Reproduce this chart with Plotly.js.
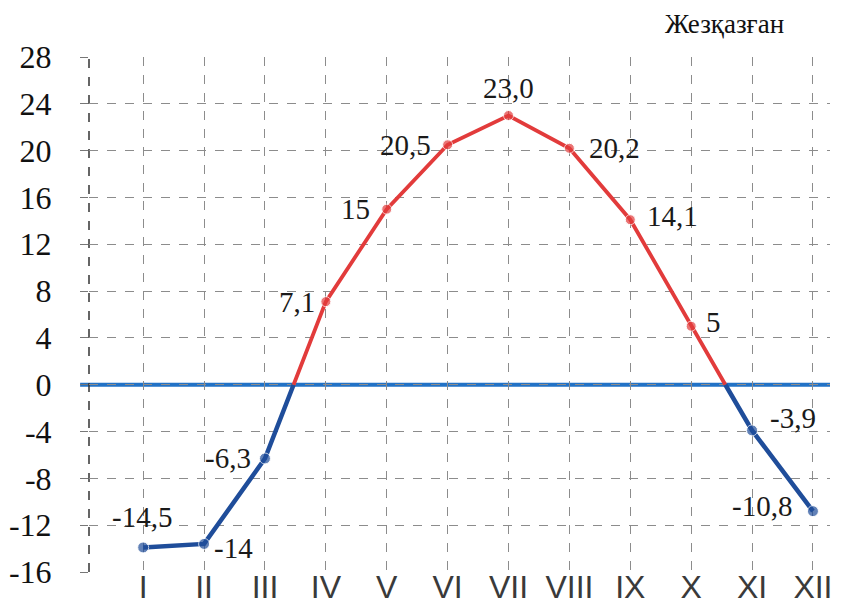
<!DOCTYPE html>
<html>
<head>
<meta charset="utf-8">
<script src="https://cdn.plot.ly/plotly-3.0.1.min.js"></script>
<style>html,body{margin:0;padding:0;background:#fff;}#chart{width:843px;height:612px;}</style>
</head>
<body>
<div id="chart"></div>
<script>
// ---- data ----
const months = ["I","II","III","IV","V","VI","VII","VIII","IX","X","XI","XII"];
const temps = [-13.9, -13.6, -6.3, 7.1, 15, 20.5, 23.0, 20.2, 14.1, 5, -3.9, -10.8];
const labelTexts = ["-14,5","-14","-6,3","7,1","15","20,5","23,0","20,2","14,1","5","-3,9","-10,8"];
const yTicks = [-16,-12,-8,-4,0,4,8,12,16,20,24,28];
const station = "Жезқазған";

// ---- styling (label placement, not data) ----
const labelStyle = [
  {xanchor:"center", yanchor:"bottom", dx:-1, dy:-12},
  {xanchor:"left", yanchor:"middle", dx:8, dy:4},
  {xanchor:"right", yanchor:"middle", dx:-12, dy:0},
  {xanchor:"right", yanchor:"middle", dx:-9, dy:0},
  {xanchor:"right", yanchor:"middle", dx:-15, dy:0},
  {xanchor:"right", yanchor:"middle", dx:-15, dy:0},
  {xanchor:"center", yanchor:"bottom", dx:0, dy:-10},
  {xanchor:"left", yanchor:"middle", dx:18, dy:0},
  {xanchor:"left", yanchor:"middle", dx:15, dy:-4},
  {xanchor:"left", yanchor:"middle", dx:13, dy:-4},
  {xanchor:"left", yanchor:"middle", dx:16, dy:-12},
  {xanchor:"right", yanchor:"middle", dx:-19, dy:-5}
];
const RED = "#e23b3b", BLUE = "#1f4d9a";
const SERIF = "Liberation Serif, DejaVu Serif, Noto Serif, serif";
const SANS = "Liberation Sans, Arial, sans-serif";

const xs = months.map((m,i)=>i+1);

// split the polyline into positive (red) and negative (blue) segments at zero crossings
const segs = [];
let cur = {x:[xs[0]], y:[temps[0]], pos: temps[0] >= 0};
for (let i = 1; i < temps.length; i++) {
  const y0 = temps[i-1], y1 = temps[i];
  if ((y0 >= 0) !== (y1 >= 0)) {
    const xc = xs[i-1] + (0 - y0) / (y1 - y0);
    cur.x.push(xc); cur.y.push(0);
    segs.push(cur);
    cur = {x:[xc, xs[i]], y:[0, y1], pos: y1 >= 0};
  } else {
    cur.x.push(xs[i]); cur.y.push(y1);
  }
}
segs.push(cur);

const traces = segs.map(s => ({
  x: s.x, y: s.y, type: "scatter", mode: "lines", hoverinfo: "skip",
  line: {color: s.pos ? RED : BLUE, width: s.pos ? 3.8 : 4.5},
  showlegend: false, cliponaxis: false
}));
traces.push({
  x: xs, y: temps, type: "scatter", mode: "markers", showlegend: false,
  marker: {size: temps.map(v => v >= 0 ? 10 : 11), color: temps.map(v => v >= 0 ? RED : BLUE)},
  cliponaxis: false
});

const annotations = temps.map((v,i) => ({
  x: xs[i], y: v, xref: "x", yref: "y", text: labelTexts[i], showarrow: false,
  xanchor: labelStyle[i].xanchor, yanchor: labelStyle[i].yanchor,
  xshift: labelStyle[i].dx, yshift: -labelStyle[i].dy,
  font: {family: SERIF, size: 29, color: "#1a1a1a"}
}));
annotations.push({
  text: station, xref: "paper", yref: "paper", x: 0.858, y: 1.062,
  xanchor: "center", yanchor: "middle", showarrow: false,
  font: {family: SERIF, size: 27, color: "#111"}
});

// plot area: margin b=30 gives paper bottom at y=582; y-domain bottom at 572
const layout = {
  width: 843, height: 612,
  margin: {l: 89, r: 13, t: 57, b: 30},
  paper_bgcolor: "#fff", plot_bgcolor: "#fff",
  showlegend: false,
  xaxis: {
    range: [0.11, 12.28], tickvals: xs, ticktext: months,
    anchor: "free", position: 0.0324,
    showgrid: true, gridcolor: "#8c8c8c", griddash: "dash", gridwidth: 1,
    zeroline: false, showline: false,
    ticks: "", ticklen: 0,
    tickfont: {family: SANS, size: 32, color: "#3a3a3a"},
    ticklabelstandoff: 0
  },
  yaxis: {
    domain: [0.019, 1],
    range: [-16, 28], tickvals: yTicks, ticktext: yTicks.map(String),
    showgrid: true, gridcolor: "#8c8c8c", griddash: "dash", gridwidth: 1,
    zeroline: false, showline: false,
    ticks: "outside", ticklen: 8, tickcolor: "#777",
    tickfont: {family: SERIF, size: 32, color: "#111"},
    ticklabelstandoff: 22
  },
  shapes: [
    {type: "line", xref: "paper", yref: "y", x0: -0.012, x1: 1.0, y0: 0, y1: 0,
     line: {color: "#2272c6", width: 4}, layer: "between"},
    {type: "line", xref: "paper", yref: "y", x0: 0, x1: 0, y0: -16, y1: 28.3,
     line: {color: "#333", width: 1.5, dash: "dash"}, layer: "between"}
  ],
  annotations: annotations
};

Plotly.newPlot("chart", traces, layout, {staticPlot: true, displayModeBar: false});
</script>
</body>
</html>
